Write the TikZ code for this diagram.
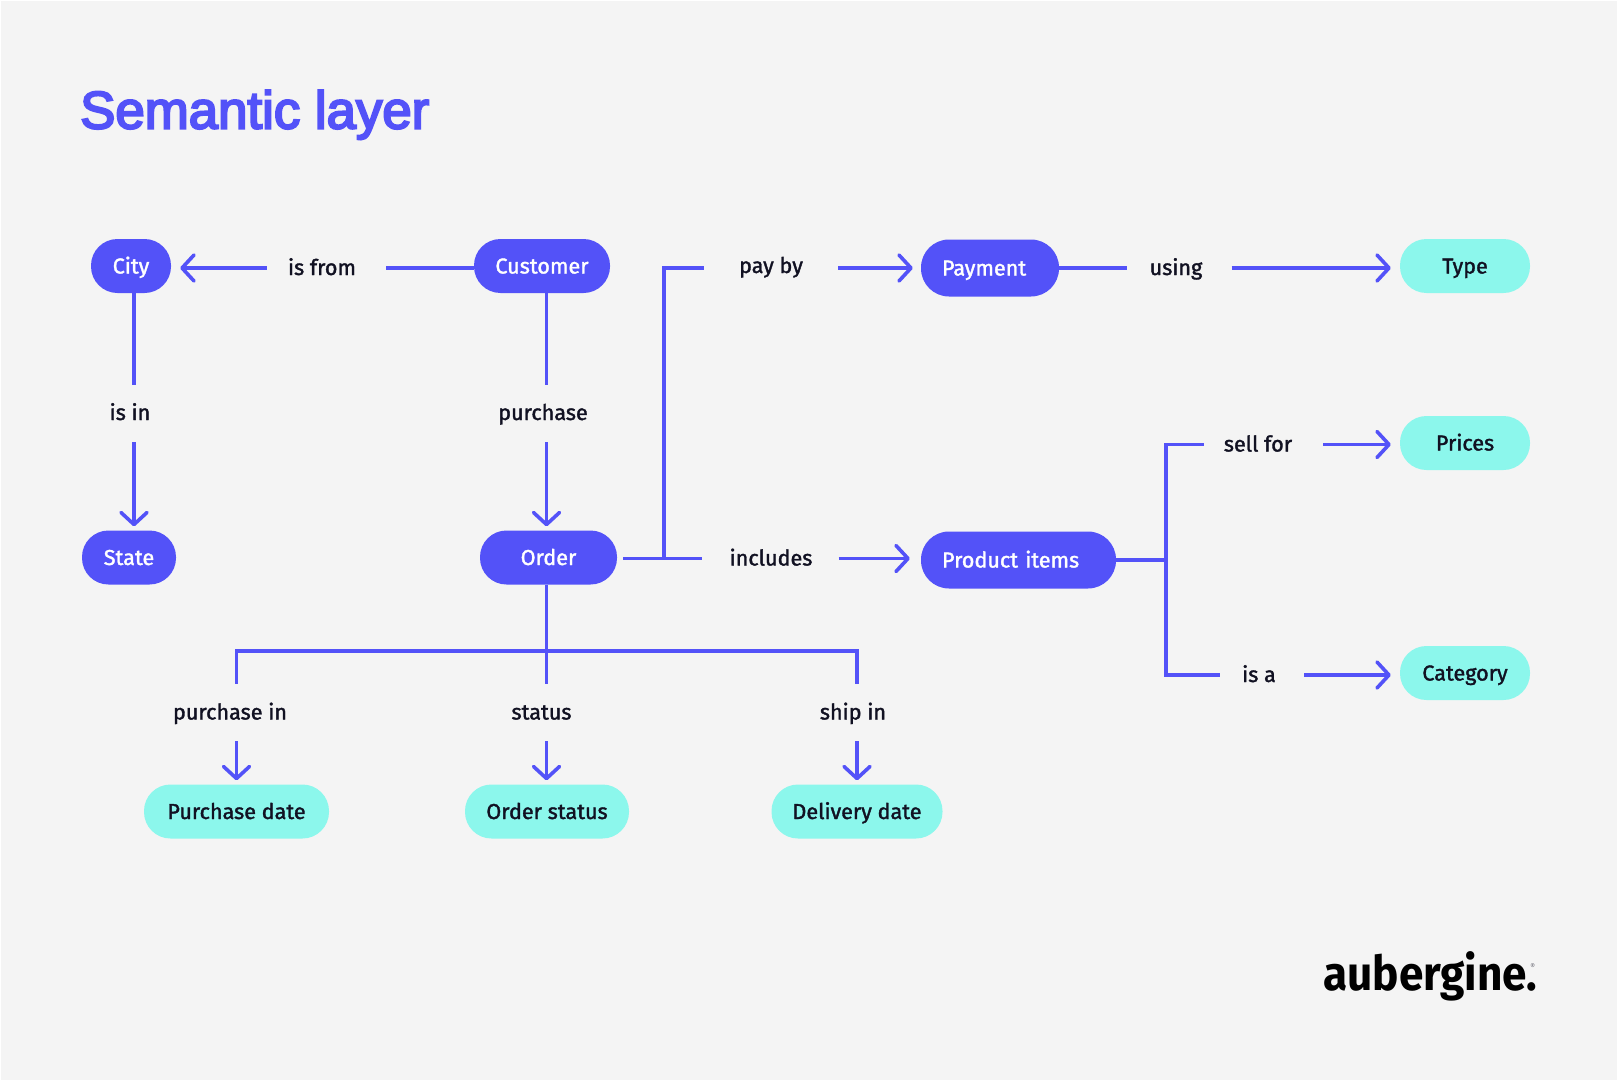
\documentclass[tikz,border=0pt]{standalone}
\usepackage{fontspec}
\usetikzlibrary{arrows.meta}
\setmainfont[FakeBold=1.6]{Fira Sans}
\newfontfamily\titlefont[FakeBold=4]{Liberation Sans}
\newfontfamily\logofont[FakeStretch=0.92]{Fira Sans}
\definecolor{pagebg}{HTML}{F4F4F4}
\definecolor{violet}{HTML}{5352F8}
\definecolor{aqua}{HTML}{8CF7EC}
\definecolor{ink}{HTML}{111122}
\tikzset{
  pill/.style={rounded corners=26.5pt, minimum height=54pt, inner xsep=0pt, inner ysep=0pt,
    text height=17pt, text depth=2pt, font=\fontsize{21.6}{24}\selectfont},
  entity/.style={pill, fill=violet, text=white},
  attribute/.style={pill, fill=aqua, text=ink},
  lbl/.style={inner sep=0pt, text height=16.5pt, text depth=2.5pt, text=ink, font=\fontsize{21.6}{24}\selectfont},
  wire/.style={draw=violet, line width=3.6pt},
  flow/.style={wire, -{Straight Barb[length=12pt, width=26pt, line width=3.6pt, round]}}
}
\begin{document}
\begin{tikzpicture}[x=1pt, y=-1pt]
	\fill[white] (0,0) rectangle (1617,1081);
	\fill[pagebg] (1,1) rectangle (1617,1080);
	\useasboundingbox (0,0) rectangle (1617,1081);

	\node[anchor=base west, text=violet, inner sep=0pt, font=\fontsize{52.8}{56}\selectfont\titlefont] (title) at (80,128.5) {Semantic layer};

	\node[entity, minimum width=80pt] (city) at (131,266) {City};
	\node[entity, minimum width=136pt] (customer) at (542,266) {Customer};
	\node[entity, minimum width=94pt] (state) at (129,557.5) {State};
	\node[entity, minimum width=137pt] (order) at (548.5,557.5) {Order};
	\node[entity, minimum height=57pt, minimum width=138pt, rounded corners=28pt, inner xsep=21pt, text width=96pt, align=left] (payment) at (990,268) {Payment};
	\node[entity, minimum height=57pt, minimum width=195pt, rounded corners=28pt, inner xsep=21pt, text width=153pt, align=left] (product) at (1018.5,560) {Product items};

	\node[attribute, minimum width=130pt] (type) at (1465,266) {Type};
	\node[attribute, minimum width=130pt] (prices) at (1465,443) {Prices};
	\node[attribute, minimum width=130pt] (category) at (1465,673) {Category};
	\node[attribute, minimum width=185pt] (purchasedate) at (236.5,811.5) {Purchase date};
	\node[attribute, minimum width=164pt] (orderstatus) at (547,811.5) {Order status};
	\node[attribute, minimum width=171pt] (deliverydate) at (857,811.5) {Delivery date};

	\node[lbl] (isfrom) at (322,268) {is from};
	\node[lbl] (isin) at (130,413) {is in};
	\node[lbl] (purchase) at (543,413) {purchase};
	\node[lbl] (payby) at (771,266) {pay by};
	\node[lbl] (includes) at (771,558.5) {includes};
	\node[lbl] (using) at (1176,268) {using};
	\node[lbl] (sellfor) at (1258,444.5) {sell for};
	\node[lbl] (isa) at (1259,675) {is a};
	\node[lbl] (purchasein) at (230,712.5) {purchase in};
	\node[lbl] (status) at (541.5,712.5) {status};
	\node[lbl] (shipin) at (853,712.5) {ship in};

	\coordinate (colleft) at (134,413);
	\coordinate (colmid) at (546.5,413);
	\coordinate (payjoin) at (664,558.5);
	\coordinate (paytop) at (664,268);
	\coordinate (itemjoin) at (1166,560);
	\coordinate (selltop) at (1166,444.5);
	\coordinate (isabot) at (1166,675);
	\coordinate (datejoin) at (236.5,651);
	\coordinate (shipjoin) at (857,651);

	% top row
	\draw[wire, shorten >=30pt] (customer.west |- isfrom) -- (isfrom.east);
	\draw[flow, shorten <=21pt, shorten >=9pt] (isfrom.west) -- (city.east |- isfrom);
	\draw[wire, shorten >=22pt] (payment.east) -- (using.west);
	\draw[flow, shorten <=29pt, shorten >=9pt] (using.east) -- (type.west |- using);

	% left columns
	\draw[wire, shorten >=18.5pt] (city.south -| colleft) -- (isin.north -| colleft);
	\draw[flow, shorten <=19.5pt, shorten >=4pt] (isin.south -| colleft) -- (state.north -| colleft);
	\draw[wire, shorten >=18.5pt] (customer.south -| colmid) -- (purchase.north -| colmid);
	\draw[flow, shorten <=19.5pt, shorten >=4pt] (purchase.south -| colmid) -- (order.north -| colmid);

	% order branches
	\draw[wire, shorten <=6pt, shorten >=27pt] (order.east |- includes) -- (includes.west);
	\draw[flow, shorten <=26pt, shorten >=11pt] (includes.east) -- (product.west |- includes);
	\draw[wire, shorten >=35pt] (payjoin) -- (paytop) -- (payby.west |- paytop);
	\draw[flow, shorten <=35pt, shorten >=8pt] (payby.east |- payment) -- (payment.west);
	\draw[wire, shorten >=19pt] (order.south -| colmid) -- (status.north -| colmid);
	\draw[wire, shorten <=19pt, shorten >=19pt] (purchasein.north -| datejoin) -- (datejoin) -- (shipjoin) -- (shipin.north -| shipjoin);
	\draw[flow, shorten <=19pt, shorten >=4pt] (purchasein.south -| datejoin) -- (purchasedate.north);
	\draw[flow, shorten <=19pt, shorten >=4pt] (status.south -| colmid) -- (orderstatus.north -| colmid);
	\draw[flow, shorten <=19pt, shorten >=4pt] (shipin.south -| shipjoin) -- (deliverydate.north);

	% product branches
	\draw[wire] (product.east) -- (itemjoin);
	\draw[wire, shorten >=20pt] (isabot) -- (selltop) -- (sellfor.west);
	\draw[wire, shorten >=22pt] (selltop) -- (isabot) -- (isa.west);
	\draw[flow, shorten <=31pt, shorten >=9pt] (sellfor.east) -- (prices.west |- sellfor);
	\draw[flow, shorten <=28pt, shorten >=9pt] (isa.east) -- (category.west |- isa);

	\node[anchor=base west, inner sep=0pt, font=\fontsize{48}{52}\selectfont\logofont\bfseries] (logo) at (1323,990) {aubergine.\kern-7pt\raisebox{21pt}{\textcolor{ink!60}{\fontsize{8}{9}\selectfont\mdseries ®}}};
\end{tikzpicture}
\end{document}
